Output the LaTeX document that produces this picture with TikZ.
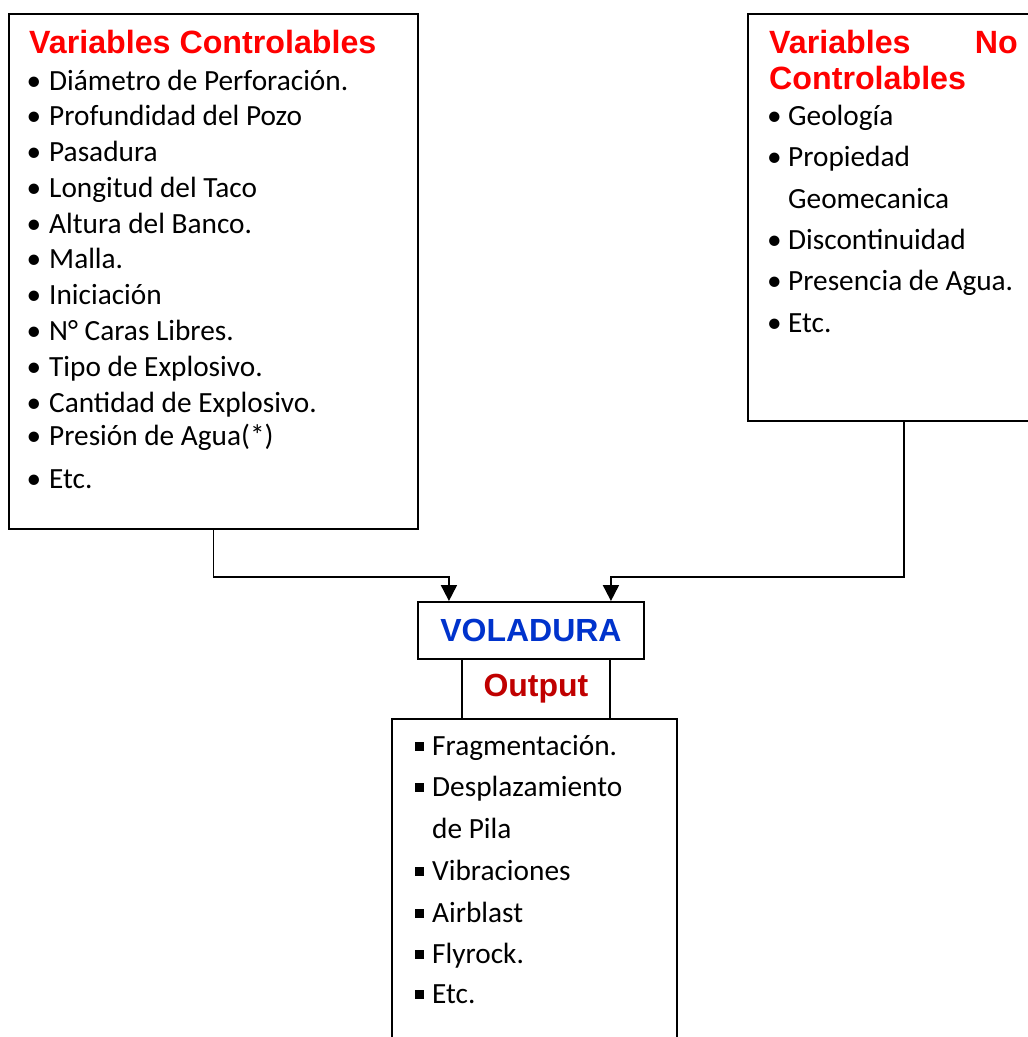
\documentclass[tikz,border=0pt]{standalone}
\usepackage{fontspec}
\setmainfont{Carlito}
\newfontfamily\arialfont{Liberation Sans}
\usetikzlibrary{arrows.meta}
\definecolor{tred}{RGB}{255,0,0}
\definecolor{vblue}{RGB}{0,51,204}
\definecolor{ored}{RGB}{192,0,0}
\begin{document}
\begin{tikzpicture}[x=1pt,y=-1pt,
  box/.style={draw, line width=1.9pt, inner sep=0, anchor=north west},
  body/.style={font=\fontsize{29.3}{35}\selectfont, anchor=base west, inner sep=0},
  bul/.style={font=\fontsize{29.3}{35}\selectfont, anchor=base, inner sep=0},
  ttl/.style={font=\arialfont\bfseries\fontsize{32.2}{36}\selectfont, text=tred, inner sep=0},
  sqb/.style={fill=black, minimum size=9pt, inner sep=0, anchor=south west},
  conn/.style={line width=1.9pt, -{Triangle[width=16pt,length=16pt]}}]
\useasboundingbox (0,0) rectangle (1028,1037);
\clip (0,0) rectangle (1028,1037);
\fill[white] (0,0) rectangle (1028,1037);

% boxes
\node[box, minimum width=409pt, minimum height=515pt] (ctrl) at (8,13) {};
\node[box, minimum width=312pt, minimum height=407pt] (nocon) at (747,13) {};
\node[box, minimum width=226pt, minimum height=57pt,
      font=\arialfont\bfseries\fontsize{32}{36}\selectfont, text=vblue] (vol) at (417,601) {VOLADURA};
\node[box, minimum width=148pt, minimum height=60pt,
      font=\arialfont\bfseries\fontsize{32}{36}\selectfont, text=ored] (out) at (461,658) {Output};
\node[box, minimum width=285pt, minimum height=340pt] (res) at (391,718) {};

% connectors
\draw[conn] (ctrl.south) -- ++(0,47) coordinate (lbend) -| ([xshift=-82pt]vol.north);
\draw[conn] (nocon.south) -- ++(0,155) coordinate (rbend) -| ([xshift=80pt]vol.north);

% left box text
\node[ttl, anchor=base west] (ctitle) at (29,53) {Variables Controlables};
\foreach \t/\y [count=\i] in {Diámetro de Perforación./90, Profundidad del Pozo/125.8,
  Pasadura/161.6, Longitud del Taco/197.3, Altura del Banco./233.1, Malla./268.9,
  Iniciación/304.7, N° Caras Libres./340.4, Tipo de Explosivo./376.2,
  Cantidad de Explosivo./412, Presión de Agua(*)/445, Etc./488}{
  \node[bul] (cb\i) at (34,\y) {\textbullet};
  \node[body] (ct\i) at (49,\y) {\t};
}

% right box text
\node[ttl, anchor=base west] (ntitleA) at (769,53) {Variables};
\node[ttl, anchor=base east] (ntitleB) at (1018,53) {No};
\node[ttl, anchor=base west] (ntitleC) at (769,89) {Controlables};
\foreach \t/\y [count=\i] in {Geología/125, Propiedad/166, Discontinuidad/249,
  Presencia de Agua./290, Etc./332}{
  \node[bul] (nb\i) at (774.5,\y) {\textbullet};
  \node[body] (nt\i) at (788,\y) {\t};
}
\node[body] (ntx) at (788,208) {Geomecanica};

% output box text
\foreach \t/\y [count=\i] in {Fragmentación./755, Desplazamiento/796, Vibraciones/880,
  Airblast/922, Flyrock./963, Etc./1003}{
  \node[sqb] (ob\i) at (415,\y-4) {};
  \node[body] (ot\i) at (432,\y) {\t};
}
\node[body] (otx) at (432,838) {de Pila};
\end{tikzpicture}
\end{document}
